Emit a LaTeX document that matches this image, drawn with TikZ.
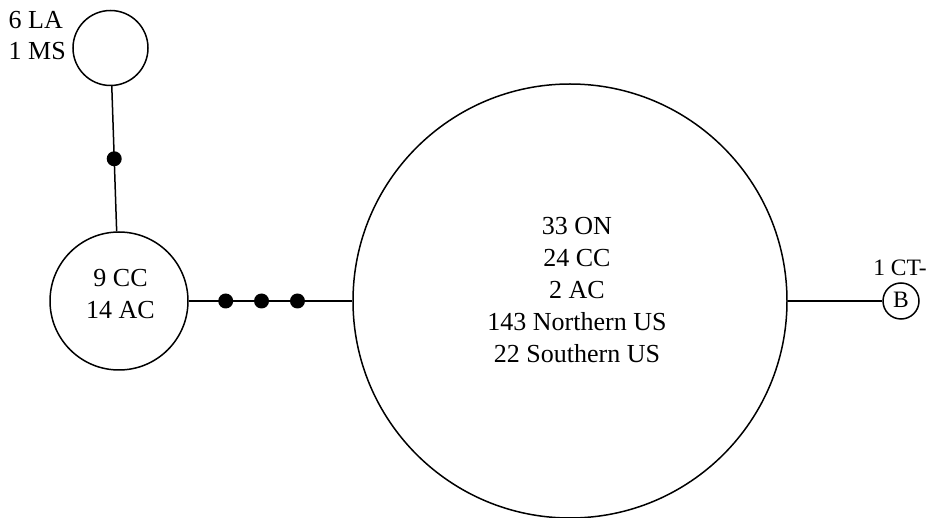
\documentclass[tikz,border=0pt]{standalone}
\usepackage{fontspec}
\setmainfont{Liberation Serif}
\begin{document}
\begin{tikzpicture}[x=1pt,y=-1pt,
  ring/.style={circle,draw,line width=1.5pt,inner sep=0pt},
  txt/.style={font=\fontsize{26}{31.8}\selectfont,align=center,inner sep=0pt},
  smalltxt/.style={font=\fontsize{23.5}{28}\selectfont,align=center,inner sep=0pt},
  dot/.style={circle,fill,inner sep=0pt,minimum size=15pt},
  link/.style={line width=1.5pt}]
\useasboundingbox (0,0) rectangle (935,518);
% circles
\node[ring,minimum size=75pt] (top) at (110.5,48) {};
\node[ring,minimum size=138pt] (cc) at (119,301) {};
\node[ring,minimum size=434pt] (big) at (570,301) {};
\node[ring,minimum size=36pt] (b) at (901,301) {};
% texts
\node[txt,align=left,anchor=west] (toptext) at (8.5,35.5) {6 LA\\1 MS};
\node[txt] (cctext) at (120.5,294) {9 CC\\14 AC};
\node[txt] (bigtext) at (577,290) {33 ON\\24 CC\\2 AC\\143 Northern US\\22 Southern US};
\node[smalltxt] (btext) at (901,300) {B};
\node[smalltxt] (cttext) at (900,267.5) {1 CT-};
% connectors
\draw[link] (top) -- node[dot,pos=0.5] (d1) {} (cc);
\draw[link] (cc) -- node[dot,pos=0.226] (d2) {}
                    node[dot,pos=0.445] (d3) {}
                    node[dot,pos=0.665] (d4) {} (big);
\draw[link] (big) -- (b);
\end{tikzpicture}
\end{document}
